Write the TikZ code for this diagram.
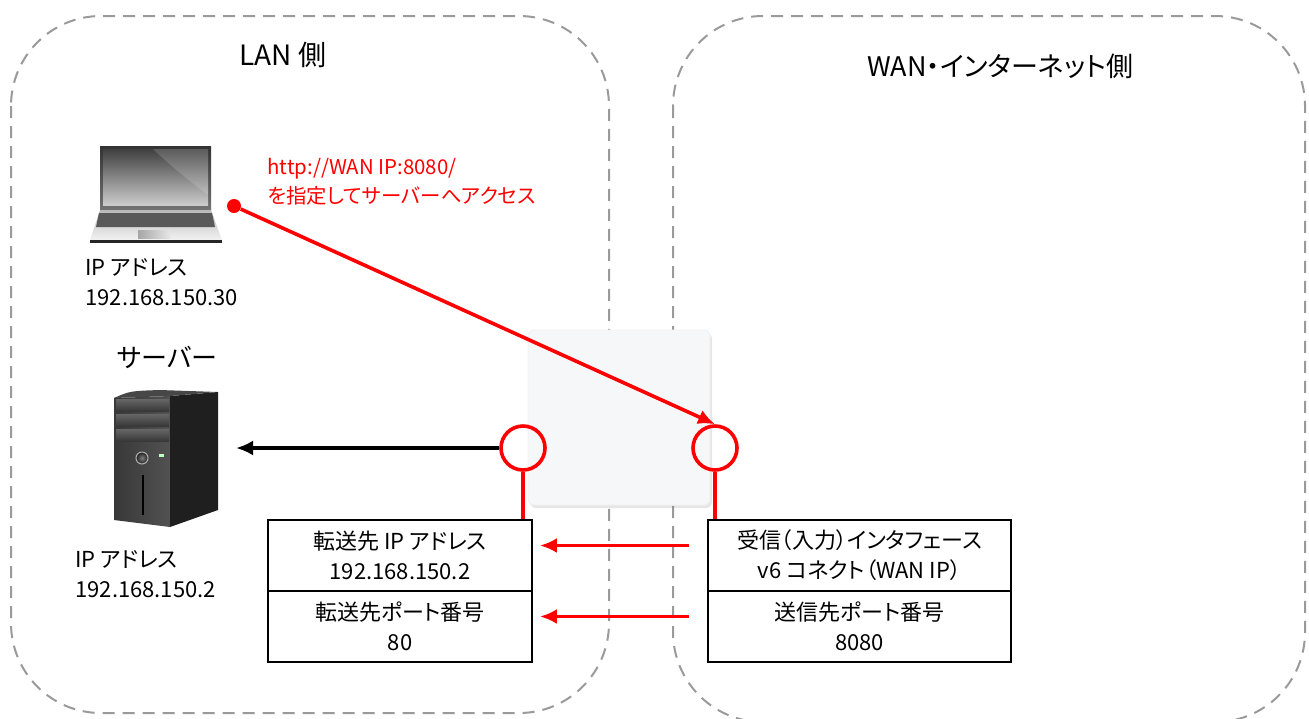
\documentclass[tikz,border=0pt]{standalone}
\usepackage{fontspec}
\setmainfont{Noto Sans CJK JP}[RawFeature=+palt]
\usetikzlibrary{arrows.meta}
\usetikzlibrary{positioning}
\usetikzlibrary{shadows}
\definecolor{zone}{HTML}{9A9A9A}
\definecolor{router}{HTML}{F6F7F9}
\tikzset{zone/.style = {draw=zone, line width=1pt, dash pattern=on 6pt off 4pt, rounded corners=45pt}}
\tikzset{port/.style = {draw=red, line width=1.8pt, circle, minimum size=22pt, inner sep=0}}
\tikzset{cell/.style = {draw, line width=0.9pt, minimum height=35.5pt, inner sep=0, align=center, font=\fontsize{11}{15}\selectfont}}
\tikzset{label/.style = {anchor=west, align=left, inner sep=0, font=\fontsize{11}{15}\selectfont}}
\tikzset{circ/.style = {fill=red, circle, inner sep=0, minimum size=7pt}}
\tikzset{tip/.style = {-{Latex[length=8.5pt, width=7.5pt]}, line width=1.8pt}}

\begin{document}
\begin{tikzpicture}[x=0.5pt, y=-0.5pt]
      \useasboundingbox (0,0) rectangle (1309,718);
      \draw [zone] (11,16) rectangle (609,713);
      \draw [zone] (673,16) rectangle (1305,722);

      \node (lantitle) [font=\fontsize{14}{16}\selectfont] at (283,55) {LAN 側};
      \node (wantitle) [font=\fontsize{13.5}{16}\selectfont] at (1000,66) {WAN・インターネット側};

      \shade [top color=black!80, bottom color=black!55] (100,146) rectangle (211,210);
      \shade [top color=black!75, bottom color=gray!40] (103,149) rectangle (208,205);
      \fill [white, opacity=0.15] (153,149) .. controls (175,170) and (195,185) .. (208,195) -- (208,149) -- cycle;
      \shade [top color=gray!55, bottom color=gray!10] (100,210) -- (211,210) -- (222,240) -- (90,240) -- cycle;
      \fill [black!65] (99,213) -- (212,213) -- (215,227) -- (96,227) -- cycle;
      \shade [left color=gray!70, right color=gray!20] (138,230) rectangle (170,238);
      \fill [black!85] (90,240) rectangle (222,243);

      \node (pcip) [label] at (85,282) {IP アドレス\\192.168.150.30};
      \node (pcdot) [circ] at (234,206) {};
      \node (hint) [label, text=red, font=\fontsize{10.2}{14.5}\selectfont] at (267,182) {http://WAN IP:8080/\\を指定してサーバーへアクセス};

      \node (srvname) [font=\fontsize{13}{15}\selectfont] at (167,357) {サーバー};
      \shade [left color=black!78, right color=black!68] (114,398) -- (170,396) -- (170,527) -- (114,520) -- cycle;
      \fill [black!88] (170,396) -- (218,392) -- (218,510) -- (170,527) -- cycle;
      \fill [black!72] (114,398) .. controls (130,391) .. (160,390) -- (218,392) -- (170,396) -- cycle;
      \foreach \t in {399,414,429}
        \shade [top color=black!60, bottom color=black!78] (116,\t) rectangle (169,\t+12);
      \shade [inner color=black!50, outer color=black!88] (142,458) circle [radius=6];
      \draw [gray!60, line width=0.5pt] (142,458) circle [radius=6];
      \fill [green!25!white] (159,454) rectangle (164,457);
      \draw [black, line width=1.2pt] (143,475) -- (143,515);
      \node (srvip) [label] at (75,574.5) {IP アドレス\\192.168.150.2};
      \coordinate (srvin) at (236,448);

      \node (router) [fill=router, draw=gray!12, rounded corners=3pt, minimum width=91pt, minimum height=87.5pt,
                      drop shadow={shadow xshift=1pt, shadow yshift=-1.5pt, opacity=0.2}] at (619,417.5) {};

      \node (lt1) [cell, minimum width=132pt] at (400,555.5) {転送先 IP アドレス\\192.168.150.2};
      \node (lt2) [cell, minimum width=132pt, below=-0.9pt of lt1] {転送先ポート番号\\80};
      \node (rt1) [cell, minimum width=151.5pt] at (859.5,555.5) {受信（入力）インタフェース\\v6 コネクト（WAN IP）};
      \node (rt2) [cell, minimum width=151.5pt, below=-0.9pt of rt1] {送信先ポート番号\\8080};

      \node (lanport) [port] at (523,448) {};
      \node (wanport) [port] at (715,448) {};

      \draw [tip, red] (pcdot) -- (wanport.north);
      \draw [tip] (lanport.west) -- (srvin);
      \draw [red, line width=1.8pt] (lanport.south) -- (lanport.south |- lt1.north);
      \draw [red, line width=1.8pt] (wanport.south) -- (wanport.south |- rt1.north);
      \draw [tip, red] ([xshift=-9pt, yshift=5pt]rt1.west) -- ([xshift=3.5pt, yshift=5pt]lt1.east);
      \draw [tip, red] ([xshift=-9pt, yshift=5pt]rt2.west) -- ([xshift=3.5pt, yshift=5pt]lt2.east);
    \end{tikzpicture}
\end{document}
